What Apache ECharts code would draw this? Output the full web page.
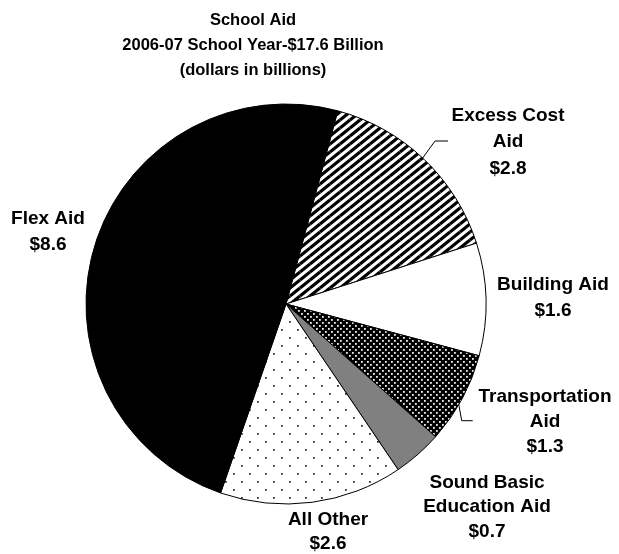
<!DOCTYPE html>
<html>
<head>
<meta charset="utf-8">
<script src="https://cdn.jsdelivr.net/npm/echarts@6/dist/echarts.min.js"></script>
<style>html,body{margin:0;padding:0;background:#fff;}#chart{width:619px;height:554px;}</style>
</head>
<body>
<div id="chart"></div>
<script>
// ---- data ----
const categories = ['Excess Cost\nAid', 'Building Aid', 'Transportation\nAid', 'Sound Basic\nEducation Aid', 'All Other', 'Flex Aid'];
const values = [2.8, 1.6, 1.3, 0.7, 2.6, 8.6];
const titleLines = ['School Aid', '2006-07 School Year-$17.6 Billion', '(dollars in billions)'];

// ---- patterns ----
function makeCanvas(w, h) { const c = document.createElement('canvas'); c.width = w; c.height = h; return c; }
function stripes() {
  const w = 10, h = 8, c = makeCanvas(w, h), g = c.getContext('2d');
  g.fillStyle = '#fff'; g.fillRect(0, 0, w, h);
  g.strokeStyle = '#000'; g.lineWidth = 3.2;
  for (let dx = -w; dx <= w; dx += w) for (let dy = -h; dy <= h; dy += h) {
    g.beginPath(); g.moveTo(dx, h + dy); g.lineTo(w + dx, dy); g.stroke();
  }
  return c;
}
function dots(w, h, bg, fg, size) {
  const c = makeCanvas(w, h), g = c.getContext('2d');
  g.fillStyle = bg; g.fillRect(0, 0, w, h);
  g.fillStyle = fg;
  g.fillRect(1, 1, size, size);
  g.fillRect(1 + w / 2, 1 + h / 2, size, size);
  return c;
}
const fills = [
  { image: stripes(), repeat: 'repeat' },
  '#ffffff',
  { image: dots(6, 6, '#000', '#eeeeee', 1.8), repeat: 'repeat' },
  '#808080',
  { image: dots(16, 16, '#fff', '#333', 1.8), repeat: 'repeat' },
  '#000000'
];
// label placement (centre of each label block) and leader lines
const labelPos = [[508, 142], [553, 298], [545, 422], [487, 507], [328, 532], [48, 232]];
const labelLH = [26.5, 26.5, 25, 24.5, 23.5, 26];
const leaders = {
  0: [[421.7, 159.3], [435, 141], [448, 141]],
  2: [[458.3, 401.7], [461.7, 420.7], [472.7, 420.7]]
};

const chart = echarts.init(document.getElementById('chart'), null, { renderer: 'canvas' });
chart.setOption({
  animation: false,
  backgroundColor: '#fff',
  graphic: [{
    type: 'text', x: 253, y: 8,
    style: {
      text: titleLines.join('\n'), textAlign: 'center', fill: '#000',
      font: 'bold 16.5px "Liberation Sans", Arial, sans-serif', lineHeight: 25
    }
  }],
  series: [{
    type: 'pie',
    center: [286, 304],
    radius: 200,
    startAngle: 75,
    clockwise: true,
    avoidLabelOverlap: false,
    silent: true,
    itemStyle: { borderColor: '#000', borderWidth: 1 },
    label: {
      show: true, position: 'outside',
      formatter: p => p.name + '\n$' + p.value.toFixed(1),
      color: '#000', fontSize: 19, fontWeight: 'bold',
      fontFamily: '"Liberation Sans", Arial, sans-serif',
      align: 'center', lineHeight: 26
    },
    labelLine: { show: false, lineStyle: { color: '#000', width: 1 } },
    labelLayout: function (p) {
      const i = p.dataIndex;
      const o = { x: labelPos[i][0], y: labelPos[i][1], align: 'center', verticalAlign: 'middle' };
      if (leaders[i]) o.labelLinePoints = leaders[i];
      return o;
    },
    data: categories.map((n, i) => ({
      name: n, value: values[i],
      itemStyle: { color: fills[i] },
      label: { lineHeight: labelLH[i] },
      labelLine: { show: !!leaders[i], length: 10, length2: 10 }
    }))
  }]
});
</script>
</body>
</html>
